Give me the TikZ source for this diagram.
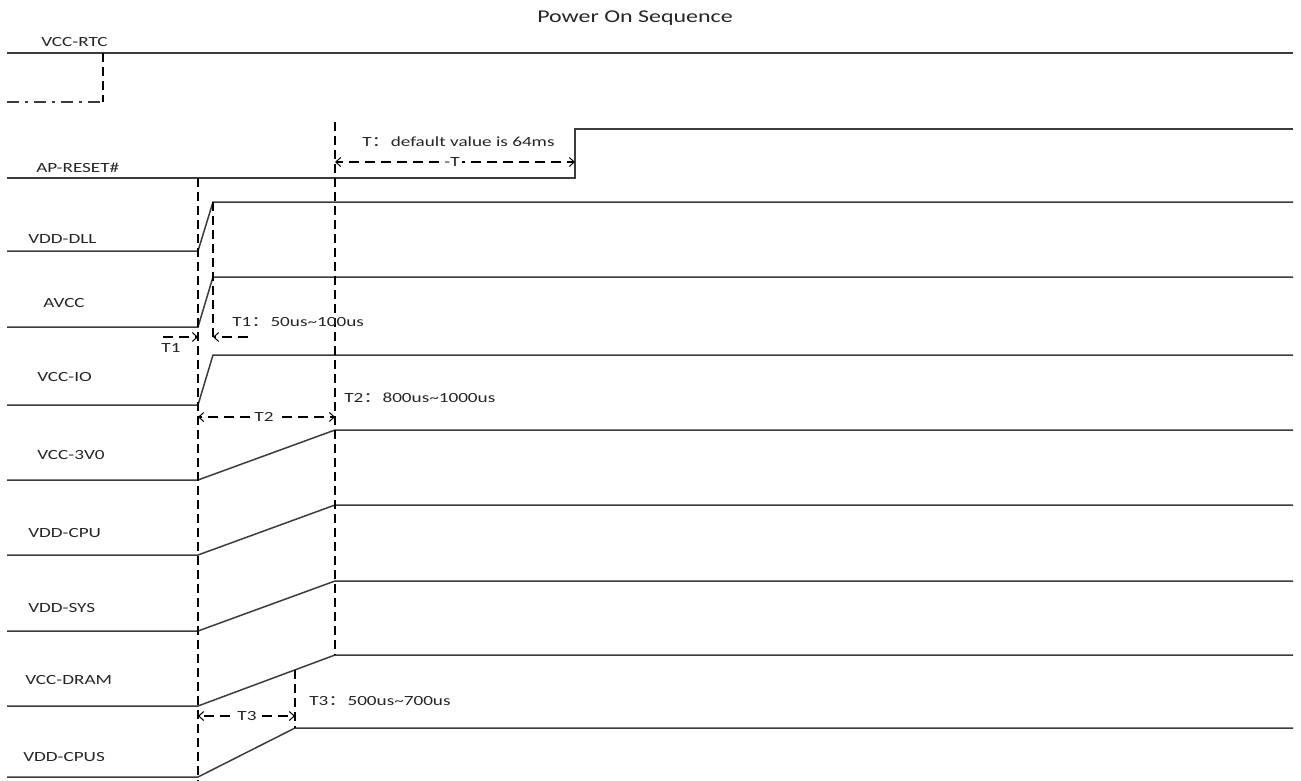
\documentclass[tikz,border=0pt]{standalone}
\usepackage{fontspec}
\setmainfont{Carlito}
\newfontfamily\cjk{Noto Sans CJK SC}
\usetikzlibrary{arrows.meta}
\definecolor{sigcol}{RGB}{60,60,60}
\tikzset{
  sig/.style={draw=sigcol, line width=1.5pt, line join=miter},
  guide/.style={draw=black, line width=1.8pt, dash pattern=on 9pt off 5pt},
  dimline/.style={draw=black, line width=1.3pt, dash pattern=on 10pt off 6pt},
  tip/.style={-{Straight Barb[length=5pt,width=9pt,line width=1pt]}},
  lab/.style={anchor=west, inner sep=0pt, xscale=1.37, text=black!85,
    font=\fontsize{14}{16}\selectfont},
  clab/.style={lab, anchor=center, fill=white, inner xsep=2pt, inner ysep=1pt},
}
\begin{document}
\begin{tikzpicture}[x=1pt,y=-1pt]
\useasboundingbox (0,0) rectangle (1301,781);
\fill[white] (0,0) rectangle (1301,781);

\node[lab, anchor=center, xscale=1.33/1.37, font=\fontsize{18}{20}\selectfont] (title) at (635,18) {Power On Sequence};

% VCC-RTC
\draw[sig] (7,53) -- (1293,53);
\draw[guide] (103,53) -- (103,102);
\draw[draw=sigcol, line width=1.8pt, dash pattern=on 12pt off 6pt on 3pt off 6pt] (7,102) -- (103,102);
\node[lab] (lrtc) at (41,42) {VCC-RTC};

% AP-RESET#
\draw[sig] (7,178) -- (575,178) -- (575,129) -- (1293,129);
\node[lab] (lrst) at (36,168) {AP-RESET\#};

% supplies
\draw[sig] (7,251) -- (198,251) -- (213,202) -- (1293,202);
\node[lab] (ldll) at (28,239) {VDD-DLL};
\draw[sig] (7,327) -- (198,327) -- (213,277) -- (1293,277);
\node[lab] (lavcc) at (43,303) {AVCC};
\draw[sig] (7,405) -- (198,405) -- (213,355) -- (1293,355);
\node[lab] (lio) at (37,377) {VCC-IO};
\draw[sig] (7,480) -- (198,480) -- (335,430) -- (1293,430);
\node[lab] (l3v0) at (37,455) {VCC-3V0};
\draw[sig] (7,555) -- (198,555) -- (335,505) -- (1293,505);
\node[lab] (lcpu) at (28,533) {VDD-CPU};
\draw[sig] (7,631) -- (198,631) -- (335,581) -- (1293,581);
\node[lab] (lsys) at (28,608) {VDD-SYS};
\draw[sig] (7,706) -- (198,706) -- (335,655) -- (1293,655);
\node[lab] (ldram) at (25,680) {VCC-DRAM};
\draw[sig] (7,777) -- (198,777) -- (295,728) -- (1293,728);
\node[lab] (lcpus) at (23,757) {VDD-CPUS};

% guide lines
\coordinate (g1t) at (198,178); \coordinate (g1b) at (198,781);
\coordinate (g2t) at (213,202); \coordinate (g2b) at (213,341);
\coordinate (g3t) at (335,122); \coordinate (g3b) at (335,655);
\coordinate (g4t) at (295,670); \coordinate (g4b) at (295,728);
\draw[guide] (g1t) -- (g1b);
\draw[guide] (g2t) -- (g2b);
\draw[guide] (g3t) -- (g3b);
\draw[guide] (g4t) -- (g4b);

% T
\coordinate (ta) at (335,162); \coordinate (tb) at (575,162);
\draw[dimline, tip] (455,162) -- (ta);
\draw[dimline, tip] (455,162) -- (tb);
\node[clab] (tl) at (452,162) {-T};
\node[lab] (tt) at (362,142) {T{\cjk ：}default value is 64ms};

% T1
\coordinate (t1a) at (163,337); \coordinate (t1b) at (198,337);
\coordinate (t1c) at (248,337); \coordinate (t1d) at (213,337);
\draw[dimline, tip] (t1a) -- (t1b);
\draw[dimline, tip] (t1c) -- (t1d);
\node[lab, anchor=center] (t1l) at (171,348) {T1};
\node[lab] (t1t) at (232,322) {T1{\cjk ：}50us\textasciitilde100us};

% T2
\coordinate (t2a) at (198,417); \coordinate (t2b) at (335,417);
\draw[dimline, tip] (266,417) -- (t2a);
\draw[dimline, tip] (266,417) -- (t2b);
\node[clab] (t2l) at (264,417) {T2};
\node[lab] (t2t) at (344,398) {T2{\cjk ：}800us\textasciitilde1000us};

% T3
\coordinate (t3a) at (198,716); \coordinate (t3b) at (295,716);
\draw[dimline, tip] (246,716) -- (t3a);
\draw[dimline, tip] (246,716) -- (t3b);
\node[clab] (t3l) at (247,716) {T3};
\node[lab] (t3t) at (309,701) {T3{\cjk ：}500us\textasciitilde700us};
\end{tikzpicture}
\end{document}
